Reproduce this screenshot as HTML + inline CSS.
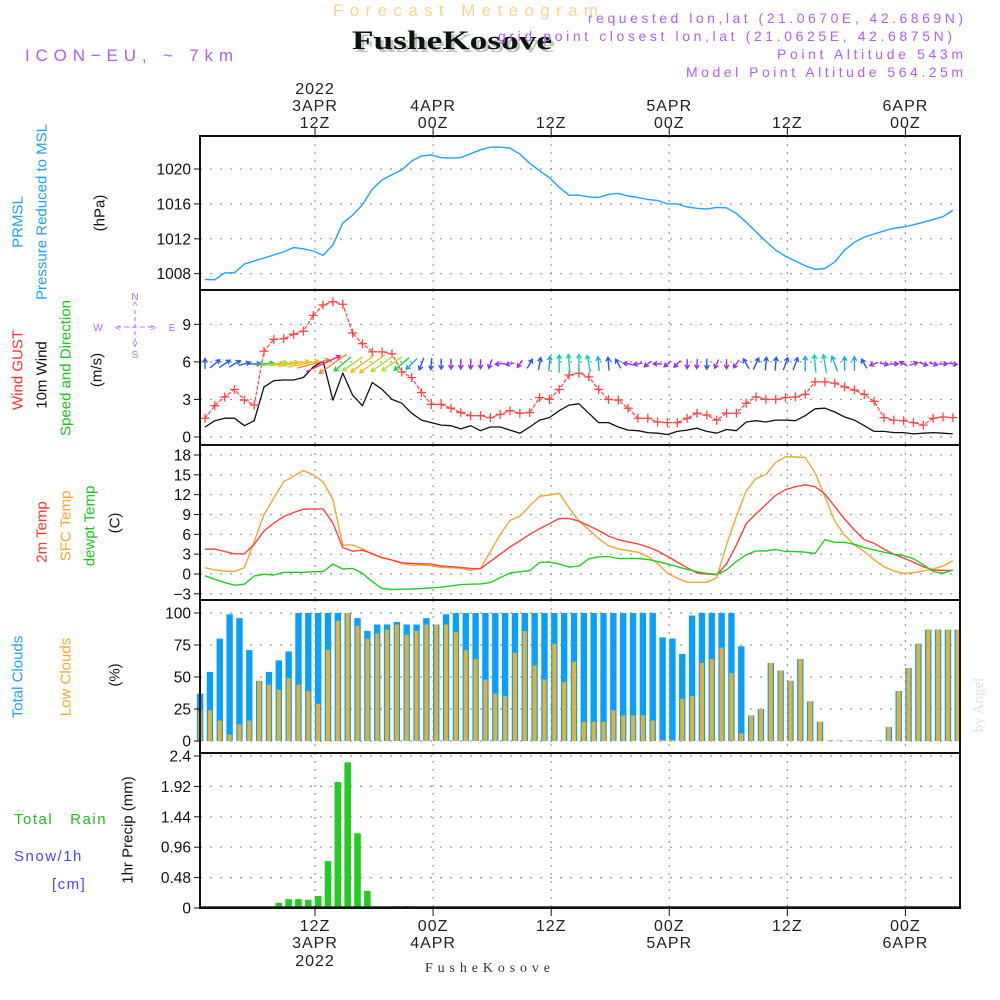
<!DOCTYPE html>
<html><head><meta charset="utf-8"><style>
html,body{margin:0;padding:0;background:#fff;width:1000px;height:1000px;overflow:hidden}
svg{display:block;font-family:"Liberation Sans",sans-serif}
</style></head><body>
<svg id="chart" xmlns="http://www.w3.org/2000/svg" width="1000" height="1000" viewBox="0 0 1000 1000">
<g id="hdr">
<text x="333" y="16" textLength="265" lengthAdjust="spacing" font-size="17" fill="#f5d590">Forecast Meteogram</text>
<text x="355" y="52" textLength="200" lengthAdjust="spacingAndGlyphs" font-family="Liberation Serif,serif" font-weight="bold" font-size="26" fill="#b8cdb8">FusheKosove</text>
<text x="352" y="49" textLength="200" lengthAdjust="spacingAndGlyphs" font-family="Liberation Serif,serif" font-weight="bold" font-size="26" fill="#111">FusheKosove</text>
<text x="588" y="23" textLength="375" lengthAdjust="spacing" font-size="14" fill="#b060f0">requested lon,lat (21.0670E, 42.6869N)</text>
<text x="498" y="41" textLength="454" lengthAdjust="spacing" font-size="14" fill="#b060f0">grid point closest lon,lat (21.0625E, 42.6875N)</text>
<text x="777" y="59" textLength="186" lengthAdjust="spacing" font-size="14" fill="#b060f0">Point Altitude 543m</text>
<text x="686" y="77" textLength="277" lengthAdjust="spacing" font-size="14" fill="#b060f0">Model Point Altitude 564.25m</text>
<text x="25" y="61" textLength="208" lengthAdjust="spacing" font-size="17" fill="#b060f0">ICON−EU, ~ 7km</text>
</g>
<g id="grid"></g>
<g id="marks"></g>
<g id="frames"></g>
<g id="labels">
<text transform="translate(18,222) rotate(-90)" text-anchor="middle" dominant-baseline="central" font-size="15" fill="#20a0f0">PRMSL</text>
<text transform="translate(42,212) rotate(-90)" text-anchor="middle" dominant-baseline="central" font-size="15" fill="#20a0f0">Pressure Reduced to MSL</text>
<text transform="translate(100,213) rotate(-90)" text-anchor="middle" dominant-baseline="central" font-size="15" fill="#111">(hPa)</text>
<text transform="translate(18,370) rotate(-90)" text-anchor="middle" dominant-baseline="central" font-size="15" fill="#ff3030">Wind GUST</text>
<text transform="translate(42,375) rotate(-90)" text-anchor="middle" dominant-baseline="central" font-size="15" fill="#111">10m Wind</text>
<text transform="translate(66,368) rotate(-90)" text-anchor="middle" dominant-baseline="central" font-size="15" fill="#20c020">Speed and Direction</text>
<text transform="translate(97,370) rotate(-90)" text-anchor="middle" dominant-baseline="central" font-size="15" fill="#111">(m/s)</text>
<g fill="#b070f0" font-size="10" text-anchor="middle">
<text x="135" y="300">N</text><text x="135" y="309">^</text>
<text x="98" y="331">W</text><text x="172" y="331">E</text>
<text x="135" y="347">v</text><text x="135" y="358">S</text>
<line x1="116" y1="327" x2="155" y2="327" stroke="#b070f0" stroke-dasharray="5,3"/>
<line x1="135" y1="310" x2="135" y2="342" stroke="#b070f0" stroke-dasharray="4,3"/>
<text x="118" y="331">&lt;</text><text x="153" y="331">&gt;</text>
</g>
<text transform="translate(42,532) rotate(-90)" text-anchor="middle" dominant-baseline="central" font-size="15" fill="#ff3030">2m Temp</text>
<text transform="translate(66,526) rotate(-90)" text-anchor="middle" dominant-baseline="central" font-size="15" fill="#f0a830">SFC Temp</text>
<text transform="translate(90,526) rotate(-90)" text-anchor="middle" dominant-baseline="central" font-size="15" fill="#20c020">dewpt Temp</text>
<text transform="translate(115,523) rotate(-90)" text-anchor="middle" dominant-baseline="central" font-size="15" fill="#111">(C)</text>
<text transform="translate(18,677) rotate(-90)" text-anchor="middle" dominant-baseline="central" font-size="15" fill="#20a0f0">Total Clouds</text>
<text transform="translate(66,677) rotate(-90)" text-anchor="middle" dominant-baseline="central" font-size="15" fill="#f0a830">Low Clouds</text>
<text transform="translate(115,675) rotate(-90)" text-anchor="middle" dominant-baseline="central" font-size="15" fill="#111">(%)</text>
<text x="14" y="824" font-size="15" fill="#20c020" letter-spacing="1.5" xml:space="preserve">Total   Rain</text>
<text x="14" y="861" font-size="15" fill="#4848ff" letter-spacing="1.5">Snow/1h</text>
<text x="52" y="889" font-size="15" fill="#4848ff" letter-spacing="1.5">[cm]</text>
<text transform="translate(128,830) rotate(-90)" text-anchor="middle" dominant-baseline="central" font-size="15" fill="#111">1hr Precip (mm)</text>
<text transform="translate(979,705) rotate(-90)" text-anchor="middle" dominant-baseline="central" font-family="Liberation Serif,serif" font-size="15" fill="#dde3dd">by Angel</text>
<text x="425" y="972" textLength="125" lengthAdjust="spacing" font-family="Liberation Serif,serif" font-size="14" fill="#333">FusheKosove</text>
</g>
</svg>
<script>
// ---- data ----
const tickT = [11.18, 23.18, 35.18, 47.18, 59.18, 71.18];
const topLab1 = ["2022", "", "", "", "", ""];
const topLab2 = ["3APR", "4APR", "", "5APR", "", "6APR"];
const topLab3 = ["12Z", "00Z", "12Z", "00Z", "12Z", "00Z"];
const botLab1 = ["12Z", "00Z", "12Z", "00Z", "12Z", "00Z"];
const botLab2 = ["3APR", "4APR", "", "5APR", "", "6APR"];
const botLab3 = ["2022", "", "", "", "", ""];
const pTicks = [1008, 1012, 1016, 1020];
const wTicks = [0, 3, 6, 9];
const tTicks = [-3, 0, 3, 6, 9, 12, 15, 18];
const cTicks = [0, 25, 50, 75, 100];
const rTicks = [0, 0.48, 0.96, 1.44, 1.92, 2.4];
const rTickLab = ["0", "0.48", "0.96", "1.44", "1.92", "2.4"];
const pressure = [1007.35,1007.3,1008.1,1008.1,1009.1,1009.45,1009.8,1010.15,1010.5,1011.0,1010.85,1010.6,1010.1,1011.3,1013.8,1014.7,1015.9,1017.7,1018.75,1019.35,1019.9,1020.9,1021.5,1021.6,1021.3,1021.25,1021.3,1021.75,1022.2,1022.5,1022.5,1022.4,1021.7,1020.65,1019.8,1019.0,1017.9,1017.0,1017.0,1016.8,1016.75,1017.1,1017.2,1016.9,1016.75,1016.5,1016.4,1016.0,1016.0,1015.65,1015.5,1015.4,1015.6,1015.55,1014.9,1013.9,1012.8,1011.7,1010.7,1010.0,1009.45,1008.9,1008.5,1008.6,1009.35,1010.7,1011.6,1012.2,1012.55,1012.9,1013.2,1013.35,1013.6,1013.9,1014.2,1014.55,1015.25];
const gust = [1.5,2.5,3.2,3.8,2.95,2.55,6.85,7.8,7.85,8.2,8.45,9.7,10.55,10.8,10.6,8.3,7.45,6.8,6.8,6.65,5.2,4.75,3.55,2.6,2.6,2.3,1.95,1.7,1.7,1.55,1.8,2.1,1.9,1.95,3.15,3.0,3.8,4.95,5.1,4.8,3.8,3.0,2.95,2.3,1.5,1.5,1.2,1.15,1.15,1.5,1.9,1.75,1.35,1.9,1.9,2.7,3.2,3.0,3.0,3.15,3.2,3.4,4.4,4.4,4.3,4.0,3.75,3.4,2.85,1.55,1.35,1.3,1.15,0.95,1.5,1.6,1.55];
const wind = [0.8,1.3,1.5,1.5,0.9,1.3,4.0,4.5,4.55,4.55,4.75,5.6,6.05,2.95,5.1,3.35,2.5,4.35,3.8,3.0,2.7,1.9,1.35,1.15,0.95,0.9,0.65,0.9,0.5,0.8,0.8,0.55,0.3,0.8,1.35,1.55,2.1,2.55,2.65,1.9,1.15,1.15,0.8,0.55,0.5,0.35,0.3,0.2,0.45,0.55,0.7,0.45,0.3,0.6,0.5,1.2,1.3,1.2,1.35,1.35,1.3,1.7,2.25,2.3,2.0,1.6,1.35,0.9,0.45,0.45,0.35,0.35,0.25,0.3,0.35,0.3,0.25];
const arrDir = [90,40,35,30,15,0,5,8,8,10,12,15,25,215,220,215,215,215,215,215,220,225,250,265,270,270,270,270,270,250,185,190,235,60,80,85,90,95,90,100,95,95,120,170,190,220,180,220,225,270,265,270,245,270,235,120,65,85,85,70,70,90,95,100,110,90,90,120,200,350,0,150,20,340,345,0,350];
const arrSpd = [1,1.5,1.5,1.5,1.2,1.5,3,4.5,5,5.5,5.5,6,7,6,3.5,4,5,5.5,4.5,4,3,2,1.5,1.2,1,0.9,0.9,0.9,0.8,0.8,0.8,0.6,0.6,1,1.5,2,2.6,2.8,2.8,2.5,1.8,1.6,1.0,0.8,0.7,0.6,0.6,0.6,0.7,0.8,0.8,1.0,0.8,0.8,0.8,1.2,1.5,1.6,1.6,1.6,1.6,2,2.6,2.8,2.2,1.8,1.8,1,0.6,0.6,0.6,0.6,0.6,0.6,0.6,0.6,0.6];
const t2m = [3.75,3.8,3.4,3.05,3.05,4.5,6.5,7.7,8.7,9.3,9.8,9.85,9.85,7.7,4.0,3.45,3.6,3.1,2.5,2.1,1.7,1.6,1.55,1.5,1.2,1.1,1.0,0.85,0.8,1.9,3.0,4.1,5.0,6.0,6.85,7.6,8.4,8.4,8.0,7.3,6.6,5.75,5.2,4.85,4.55,4.1,3.5,2.65,1.8,0.95,0.15,0,-0.1,1.5,4.4,7.6,9.1,10.5,11.9,12.75,13.2,13.5,13.2,12.1,10.2,8.3,6.65,5.2,4.65,3.75,3.0,2.4,1.8,1.1,0.6,0.55,0.55];
const tSfc = [0.95,0.6,0.45,0.4,0.95,4.9,9.0,11.5,13.95,14.8,15.65,15.0,13.95,11.25,4.4,4.4,3.8,3.0,2.4,2.1,1.6,1.35,1.35,1.25,1.0,0.95,0.85,0.55,0.85,3.4,5.95,8.1,8.75,10.3,11.75,11.95,12.2,10.0,8.0,6.7,5.35,4.3,3.8,3.55,3.3,2.65,1.6,0.1,-0.65,-1.25,-1.25,-1.25,-0.55,4.4,8.75,12.55,14.45,15.05,16.9,17.75,17.7,17.6,15.3,11.7,8.0,5.85,4.4,3.4,2.15,1.1,0.45,0.1,0.2,0.45,0.75,1.2,2.0];
const tDew = [-0.25,-0.8,-1.3,-1.7,-1.55,-0.3,-0.05,-0.15,0.25,0.25,0.25,0.35,0.35,1.5,0.75,0.85,0.1,-1.15,-2.2,-2.35,-2.3,-2.25,-2.2,-2.1,-2.0,-1.8,-1.6,-1.55,-1.5,-1.3,-0.55,0.15,0.35,0.5,1.75,1.8,1.5,1.05,1.2,2.3,2.6,2.65,2.35,2.35,2.35,2.2,1.9,1.5,1.1,0.7,0.35,0.1,-0.05,0.6,1.9,2.9,3.5,3.5,3.7,3.4,3.4,3.3,3.1,5.2,4.8,4.8,4.5,4.0,3.65,3.3,3.0,2.8,2.3,1.4,0.35,0.1,0.6];
const totalClouds = [37,54,80,99,96,71,47,54,63,70,100,100,100,100,100,100,96,86,91,91,93,91,91,96,91,99,100,100,100,100,100,100,100,100,100,100,100,100,100,100,100,100,100,100,100,100,100,81,80,68,98,100,100,100,100,74,20,25,61,55,47,64,31,15,0.5,0.5,0.5,0.5,0.5,0.5,11,39,57,76,87,87,87,87];
const lowClouds = [24,24,16,5,13,16,47,44,40,49,44,39,29,71,94,100,90,80,84,87,91,83,86,91,91,91,85,71,64,48,37,35,69,86,59,48,76,46,62,15,15,15,24,20,20,20,16,1,1,33,35,61,64,73,53,6,20,25,61,55,47,64,31,15,0.5,0.5,0.5,0.5,0.5,0.5,11,39,57,76,87,87,87,87];
const rainHours = [8,9,10,11,12,13,14,15,16,17,18,20,21];
const rain = [0.08,0.14,0.14,0.13,0.19,0.74,1.99,2.30,1.18,0.27,0.02,0.03,0.03];

// ---- axes ----
const NS = "http://www.w3.org/2000/svg";
const X0 = 200, X1 = 960;
function xT(t){ return 205 + 9.84 * t; }
function lin(v0, y0, v1, y1){ return v => y0 + (v - v0) * (y1 - y0) / (v1 - v0); }
const yP = lin(1008, 273.7, 1020, 169);
const yW = lin(0, 437, 9, 324.3);
const yTmp = lin(0, 574, 18, 455);
const yC = lin(0, 741, 100, 613);
const yR = lin(0, 908, 2.4, 756);
const panels = [[136,290],[290,445],[445,600],[600,753],[753,908]];

function el(tag, attrs, parent){
  const e = document.createElementNS(NS, tag);
  for (const k in attrs) e.setAttribute(k, attrs[k]);
  parent.appendChild(e);
  return e;
}
const gGrid = document.getElementById('grid');
const gMarks = document.getElementById('marks');
const gFrames = document.getElementById('frames');
const gLab = document.getElementById('labels');

tickT.forEach((t, i) => {
  const x = xT(t);
  panels.forEach(p => {
    const l = el('line', {x1:x, y1:p[0], x2:x, y2:p[1], stroke:'#999', 'stroke-dasharray':'2,6', 'stroke-width':1.2}, gGrid);
    
    
  });
  el('line', {x1:x, y1:128, x2:x, y2:136, stroke:'#111'}, gFrames);
  el('line', {x1:x, y1:908, x2:x, y2:916, stroke:'#111'}, gFrames);
  [[topLab1[i], 94], [topLab2[i], 111], [topLab3[i], 128]].forEach(a => {
    if (!a[0]) return;
    const tx = el('text', {x:x, y:a[1], 'text-anchor':'middle', 'font-size':16, fill:'#222', 'letter-spacing':1}, gLab);
    tx.textContent = a[0];
    
    
  });
  [[botLab1[i], 931], [botLab2[i], 948], [botLab3[i], 966]].forEach(a => {
    if (!a[0]) return;
    const tx = el('text', {x:x, y:a[1], 'text-anchor':'middle', 'font-size':16, fill:'#222', 'letter-spacing':1}, gLab);
    tx.textContent = a[0];
    
    
  });
});

function yAxis(ticks, labs, fy, name){
  ticks.forEach((v, i) => {
    const y = fy(v);
    const l = el('line', {x1:X0, y1:y, x2:X1, y2:y, stroke:'#999', 'stroke-dasharray':'2,8', 'stroke-width':1.2}, gGrid);
    
    
    el('line', {x1:X0-6, y1:y, x2:X0, y2:y, stroke:'#111'}, gFrames);
    const tx = el('text', {x:191, y:y + 5.5, 'text-anchor':'end', 'font-size':15.5, fill:'#111'}, gLab);
    tx.textContent = labs ? labs[i] : String(v);
    
    
  });
}
yAxis(pTicks, null, yP, 'pressure');
yAxis(wTicks, null, yW, 'wind');
yAxis(tTicks, tTicks.map(v => v < 0 ? '−' + (-v) : String(v)), yTmp, 'temp');
yAxis(cTicks, null, yC, 'clouds');
yAxis(rTicks, rTickLab, yR, 'precip');

panels.forEach(p => {
  const r = el('rect', {x:X0, y:p[0], width:X1-X0, height:p[1]-p[0], fill:'none', stroke:'#111', 'stroke-width':2}, gFrames);
  
  
});

function line(vals, fy, color, name, w){
  const pts = vals.map((v, i) => xT(i).toFixed(1) + ',' + fy(v).toFixed(1)).join(' ');
  const pl = el('polyline', {points:pts, fill:'none', stroke:color, 'stroke-width':w || 1.4, 'stroke-linejoin':'round'}, gMarks);
  
  
  return pl;
}

line(pressure, yP, '#1ea4f5', 'pressure-line');

totalClouds.forEach((v, k) => {
  const x = xT(k - 0.5);
  const y = yC(v);
  const r = el('rect', {x:x-3.2, y:y, width:6.4, height:yC(0)-y, fill: v < 1 ? '#aaa' : '#0aa0fa'}, gMarks);
  
  
});
lowClouds.forEach((v, k) => {
  const x = xT(k - 0.5);
  const y = yC(v);
  const r = el('rect', {x:x-2, y:y, width:4, height:yC(0)-y, fill: v < 1 ? '#bbb' : '#e8b030'}, gMarks);
  
  
});

rainHours.forEach((h, i) => {
  const x = xT(h - 0.5);
  const y = yR(rain[i]);
  const r = el('rect', {x:x-3.3, y:y, width:6.6, height:yR(0)-y, fill:'#22cc22'}, gMarks);
  
  
});
el('line', {x1:X0, y1:907, x2:X1, y2:907, stroke:'#222', 'stroke-width':1.5}, gMarks);

line(wind, yW, '#111', 'wind-10m-line', 1.3);
const gl = line(gust, yW, '#ff4545', 'wind-gust-line', 1.2);
gl.setAttribute('stroke-dasharray', '4,1.5');
gust.forEach((v, i) => {
  const x = xT(i), y = yW(v);
  const p = el('path', {d:`M${x-4.5},${y}H${x+4.5}M${x},${y-4.5}V${y+4.5}`, stroke:'#ff4545', 'stroke-width':1.3}, gMarks);
  
  
});
function spdColor(s){
  if (s < 1) return '#9b2ee8';
  if (s < 1.7) return '#2a55ff';
  if (s < 2.3) return '#1aa8f0';
  if (s < 3) return '#12d0b8';
  if (s < 4) return '#20d040';
  if (s < 5) return '#a8e030';
  if (s < 6) return '#e8c020';
  if (s < 6.5) return '#f08828';
  return '#ff2080';
}
arrDir.forEach((d, i) => {
  const s = arrSpd[i];
  const L = 6 + 4.5 * s;
  const a = d * Math.PI / 180;
  const dx = Math.cos(a), dy = -Math.sin(a);
  const cx = xT(i), cy = yW(6) + 2;
  const x1 = cx - dx * L / 2, y1 = cy - dy * L / 2;
  const x2 = cx + dx * L / 2, y2 = cy + dy * L / 2;
  const h = 4.5, ha = 0.55;
  const b1 = a + Math.PI - ha, b2 = a + Math.PI + ha;
  const hx1 = x2 + Math.cos(b1) * h, hy1 = y2 - Math.sin(b1) * h;
  const hx2 = x2 + Math.cos(b2) * h, hy2 = y2 - Math.sin(b2) * h;
  const p = el('path', {d:`M${x1.toFixed(1)},${y1.toFixed(1)}L${x2.toFixed(1)},${y2.toFixed(1)}M${hx1.toFixed(1)},${hy1.toFixed(1)}L${x2.toFixed(1)},${y2.toFixed(1)}L${hx2.toFixed(1)},${hy2.toFixed(1)}`, fill:'none', stroke:spdColor(s), 'stroke-width':1.4}, gMarks);
  
  
});

line(tSfc, yTmp, '#f0a830', 'sfc-temp-line');
line(t2m, yTmp, '#ff4040', 't2m-line');
line(tDew, yTmp, '#22cc22', 'dewpt-line');
</script>
</body></html>
